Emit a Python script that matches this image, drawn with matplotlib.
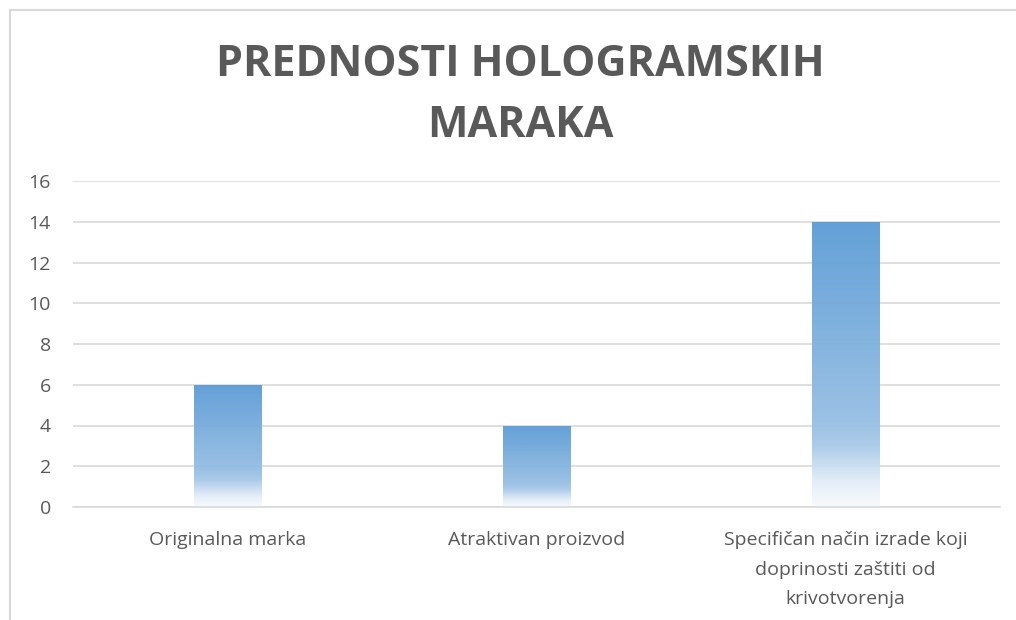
import matplotlib
matplotlib.use('Agg')
from matplotlib import pyplot as plt
from matplotlib.colors import LinearSegmentedColormap
from matplotlib.patches import Rectangle
import numpy as np

categories = ['Originalna marka', 'Atraktivan proizvod',
              'Specifičan način izrade koji\ndoprinosti zaštiti od\nkrivotvorenja']
values = [6, 4, 14]
yticks = [0, 2, 4, 6, 8, 10, 12, 14, 16]
title = 'PREDNOSTI HOLOGRAMSKIH\nMARAKA'

plt.rcParams['font.family'] = ['Open Sans', 'DejaVu Sans']
gray = '#595959'

fig = plt.figure(figsize=(10.16, 6.2), dpi=100)
fig.patches.append(Rectangle((10/1016, -0.1), 1.2, 1 - 10/620 + 0.1,
                             transform=fig.transFigure, fill=False,
                             edgecolor='#D9D9D9', lw=1.5))
ax = fig.add_axes([73/1016, 1 - 507/620, 927/1016, 326/620])

# gradient: dark blue at top, fading to white near the bottom
cmap = LinearSegmentedColormap.from_list('g', [
    (0.0, '#F7FAFD'), (0.08, '#E6EFF9'), (0.22, '#A6C8E8'),
    (0.3, '#96BEE4'), (1.0, '#5B9BD5')])
grad = np.linspace(0, 1, 256).reshape(-1, 1)

w = 0.22
for i, v in enumerate(values):
    bar = ax.bar(i, v, width=w, color='none', edgecolor='none', zorder=2)[0]
    im = ax.imshow(grad, cmap=cmap, origin='lower', aspect='auto',
                   extent=[i - w/2, i + w/2, 0, v], zorder=2, alpha=0.95)
    im.set_clip_path(bar)

ax.set_xlim(-0.5, 2.5)
ax.set_ylim(0, 16)
ax.set_yticks(yticks)
ax.set_xticks(range(len(categories)))
ax.set_xticklabels(categories, linespacing=1.85)
ax.yaxis.grid(True, color='#D9D9D9', lw=1.2, zorder=0)
ax.set_axisbelow(True)
for s in ['top', 'right', 'left']:
    ax.spines[s].set_visible(False)
ax.spines['bottom'].set_color('#D9D9D9')
ax.spines['bottom'].set_linewidth(1.2)
ax.tick_params(axis='both', length=0, colors=gray, labelsize=14)
ax.tick_params(axis='y', pad=16)
ax.tick_params(axis='x', pad=17)

fig.text(520/1016, 1 - 95/620, title, ha='center', va='center',
         fontsize=31, fontweight='bold', color=gray, linespacing=1.52)

fig.savefig('out.png', dpi=100)
